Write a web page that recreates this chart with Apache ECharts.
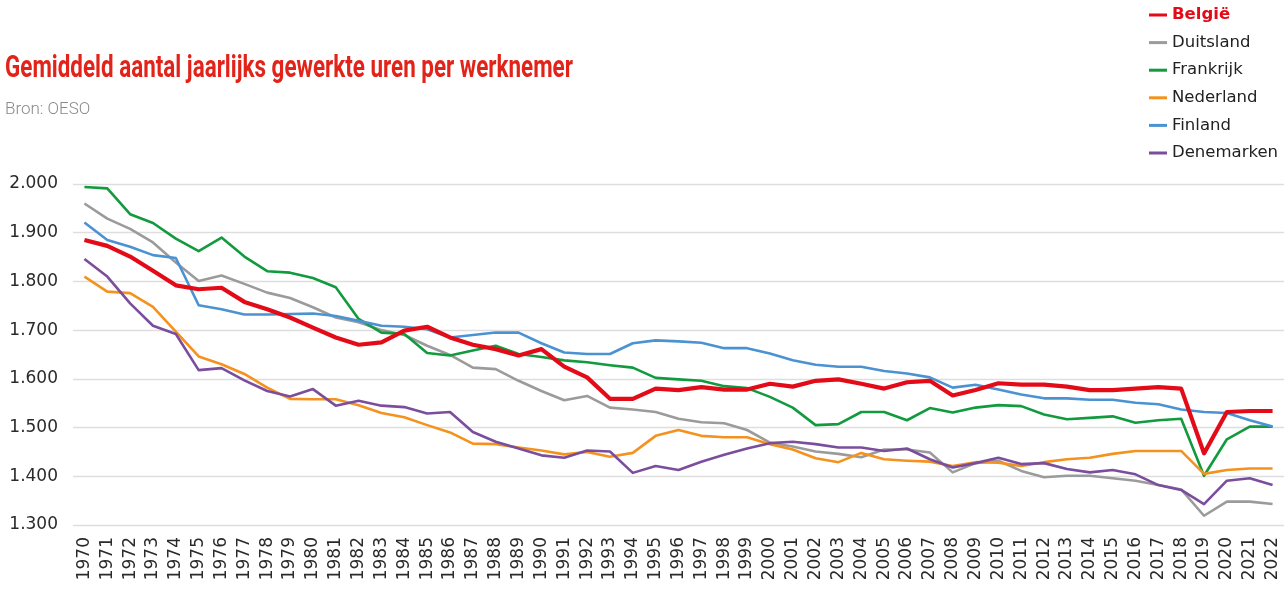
<!DOCTYPE html>
<html>
<head>
<meta charset="utf-8">
<script src="https://cdn.jsdelivr.net/npm/echarts@6/dist/echarts.min.js"></script>
<style>
  html, body { margin: 0; padding: 0; background: #fff; }
  #chart { width: 1284px; height: 595px; }
</style>
</head>
<body>
<div id="chart"></div>
<script>
// Gemiddeld aantal jaarlijks gewerkte uren per werknemer, 1970-2022 (bron: OESO)
const years = [];
for (let y = 1970; y <= 2022; y++) years.push(String(y));

const belgie = [1885, 1873, 1851, 1822, 1792, 1784, 1787, 1758, 1743, 1726,
  1705, 1685, 1670, 1675, 1699, 1707, 1685, 1670, 1661, 1648,
  1661, 1625, 1603, 1559, 1559, 1580, 1577, 1583, 1578, 1578,
  1590, 1584, 1596, 1599, 1590, 1580, 1593, 1596, 1566, 1577,
  1591, 1588, 1588, 1584, 1577, 1577, 1580, 1583, 1580, 1447,
  1532, 1534, 1534];

const duitsland = [1960, 1929, 1908, 1880, 1839, 1801, 1812, 1795, 1777, 1766,
  1747, 1726, 1716, 1700, 1690, 1668, 1649, 1623, 1620, 1596,
  1575, 1556, 1565, 1541, 1537, 1532, 1518, 1511, 1509, 1495,
  1469, 1461, 1451, 1446, 1439, 1455, 1455, 1449, 1408, 1427,
  1432, 1411, 1398, 1401, 1401, 1396, 1391, 1382, 1373, 1319,
  1348, 1348, 1343];

const frankrijk = [1994, 1991, 1938, 1920, 1888, 1862, 1890, 1851, 1821, 1818,
  1807, 1788, 1723, 1695, 1692, 1653, 1648, 1658, 1668, 1651,
  1645, 1638, 1634, 1628, 1623, 1602, 1599, 1596, 1585, 1581,
  1563, 1541, 1505, 1507, 1532, 1532, 1515, 1540, 1531, 1541,
  1546, 1544, 1527, 1517, 1520, 1523, 1510, 1515, 1518, 1401,
  1476, 1502, 1502];

const nederland = [1810, 1779, 1776, 1748, 1697, 1646, 1630, 1610, 1582, 1559,
  1558, 1558, 1546, 1530, 1521, 1505, 1490, 1467, 1466, 1459,
  1453, 1445, 1450, 1440, 1448, 1483, 1495, 1483, 1480, 1480,
  1466, 1455, 1437, 1429, 1448, 1435, 1432, 1430, 1421, 1429,
  1428, 1421, 1429, 1435, 1438, 1446, 1452, 1452, 1452, 1405,
  1413, 1416, 1416];

const finland = [1921, 1885, 1871, 1854, 1848, 1751, 1743, 1732, 1732, 1733,
  1734, 1729, 1719, 1709, 1707, 1702, 1685, 1690, 1695, 1695,
  1673, 1654, 1651, 1651, 1673, 1679, 1677, 1674, 1663, 1663,
  1652, 1638, 1629, 1625, 1625, 1616, 1611, 1603, 1582, 1588,
  1578, 1568, 1560, 1560, 1557, 1557, 1551, 1548, 1537, 1532,
  1530, 1515, 1502];

const denemarken = [1846, 1810, 1755, 1709, 1692, 1618, 1622, 1597, 1575, 1564,
  1579, 1545, 1555, 1545, 1542, 1529, 1532, 1491, 1471, 1457,
  1443, 1438, 1453, 1451, 1407, 1421, 1413, 1430, 1444, 1457,
  1468, 1471, 1466, 1459, 1459, 1452, 1457, 1435, 1418, 1427,
  1438, 1425, 1427, 1415, 1408, 1413, 1404, 1382, 1372, 1343,
  1391, 1396, 1382];

const yTicks = { min: 1300, max: 2000, step: 100 };

const countries = [
  { name: 'Duitsland',  data: duitsland,  color: '#9b9b9b', width: 2.6 },
  { name: 'Frankrijk',  data: frankrijk,  color: '#119a3e', width: 2.6 },
  { name: 'Nederland',  data: nederland,  color: '#f5921e', width: 2.6 },
  { name: 'Finland',    data: finland,    color: '#4a92d2', width: 2.6 },
  { name: 'Denemarken', data: denemarken, color: '#7b4d9d', width: 2.6 },
  { name: 'België',     data: belgie,     color: '#e30b17', width: 4.2 }
];
const legendOrder = ['België', 'Duitsland', 'Frankrijk', 'Nederland', 'Finland', 'Denemarken'];

const FONT = '"DejaVu Sans", Roboto, sans-serif';
const thousands = v => String(v).replace(/\B(?=(\d{3})+(?!\d))/g, '.');

const chart = echarts.init(document.getElementById('chart'), null, { renderer: 'canvas' });

chart.setOption({
  animation: false,
  backgroundColor: '#ffffff',
  graphic: [
    {
      type: 'text',
      x: 5, y: 54,
      scaleX: 0.723,
      style: {
        text: 'Gemiddeld aantal jaarlijks gewerkte uren per werknemer',
        font: 'bold 31px Roboto, sans-serif',
        fill: '#e2231a',
        textVerticalAlign: 'top'
      }
    },
    {
      type: 'text',
      x: 5, y: 101,
      style: {
        text: 'Bron: OESO',
        font: '300 17px Roboto, sans-serif',
        fill: '#8a8a8a',
        textVerticalAlign: 'top'
      }
    }
  ],
  legend: {
    orient: 'vertical',
    left: 1144,
    top: 0,
    icon: 'rect',
    itemWidth: 18,
    itemHeight: 3,
    itemGap: 7.6,
    textStyle: { fontFamily: FONT, fontSize: 16.5, color: '#222', lineHeight: 20 },
    data: legendOrder.map(n => n === 'België'
      ? { name: n, textStyle: { color: '#e30b17', fontWeight: 'bold' } }
      : { name: n })
  },
  grid: { left: 73, right: 0, top: 184, bottom: 70, containLabel: false },
  xAxis: {
    type: 'category',
    data: years,
    boundaryGap: true,
    axisLine: { show: false },
    axisTick: { show: false },
    axisLabel: {
      interval: 0,
      rotate: 90,
      margin: 12,
      fontFamily: FONT,
      fontSize: 17,
      color: '#2a2a2a'
    },
    splitLine: { show: false }
  },
  yAxis: {
    type: 'value',
    min: yTicks.min,
    max: yTicks.max,
    interval: yTicks.step,
    axisLine: { show: false },
    axisTick: { show: false },
    axisLabel: {
      margin: 15,
      fontFamily: FONT,
      fontSize: 17,
      color: '#2a2a2a',
      formatter: thousands
    },
    splitLine: { lineStyle: { color: '#dedede', width: 1.3 } }
  },
  series: countries.map((c, i) => ({
    name: c.name,
    type: 'line',
    data: c.data,
    symbol: 'none',
    z: 2 + i,
    itemStyle: { color: c.color },
    lineStyle: { color: c.color, width: c.width, join: 'round' }
  }))
});
</script>
</body>
</html>
